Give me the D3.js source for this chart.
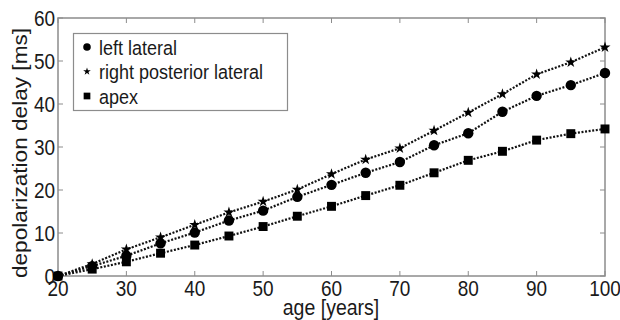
<!DOCTYPE html>
<html>
<head>
<meta charset="utf-8">
<script src="https://cdn.jsdelivr.net/npm/d3@7"></script>
<style>
  body { margin: 0; background: #fff; }
  svg { display: block; font-family: "Liberation Sans", Arial, sans-serif; }
</style>
</head>
<body>
<div id="chart"></div>
<script>
// ages on x axis
const ages = [20, 25, 30, 35, 40, 45, 50, 55, 60, 65, 70, 75, 80, 85, 90, 95, 100];
// depolarization delay [ms] per region
const leftLateral = [0, 2.3, 4.7, 7.6, 10.1, 12.9, 15.2, 18.4, 21.2, 24.0, 26.5, 30.4, 33.2, 38.2, 41.9, 44.4, 47.2];
const rightPosteriorLateral = [0, 2.8, 6.2, 9.0, 11.9, 14.8, 17.3, 20.1, 23.7, 27.1, 29.7, 33.8, 38.0, 42.3, 46.9, 49.7, 53.2];
const apex = [0, 1.6, 3.3, 5.3, 7.2, 9.3, 11.5, 13.9, 16.2, 18.7, 21.1, 24.0, 26.9, 29.0, 31.6, 33.1, 34.2];
const seriesNames = ['left lateral', 'right posterior lateral', 'apex'];
const xTicks = [20, 30, 40, 50, 60, 70, 80, 90, 100];
const yTicks = [0, 10, 20, 30, 40, 50, 60];

const width = 620, height = 320;
const margin = { top: 18, right: 15, bottom: 44, left: 58 };
const axisColor = '#8c8c8c';
const textColor = '#1a1a1a';
// the source picture is a little stretched vertically, so text is too
const stretch = 1.16;

const svg = d3.select('#chart').append('svg')
  .attr('width', width)
  .attr('height', height);

const x = d3.scaleLinear().domain([20, 100]).range([margin.left, width - margin.right]);
const y = d3.scaleLinear().domain([0, 60]).range([height - margin.bottom, margin.top]);

// box + ticks (matlab style, ticks inward on all sides)
const g = svg.append('g');
g.append('rect')
  .attr('x', x(20)).attr('y', y(60))
  .attr('width', x(100) - x(20)).attr('height', y(0) - y(60))
  .attr('fill', 'none').attr('stroke', axisColor).attr('stroke-width', 1.5);

const tickLen = 5;
xTicks.forEach(t => {
  g.append('line').attr('x1', x(t)).attr('x2', x(t)).attr('y1', y(0)).attr('y2', y(0) - tickLen)
    .attr('stroke', axisColor);
  g.append('line').attr('x1', x(t)).attr('x2', x(t)).attr('y1', y(60)).attr('y2', y(60) + tickLen)
    .attr('stroke', axisColor);
});
yTicks.forEach(t => {
  g.append('line').attr('x1', x(20)).attr('x2', x(20) + tickLen).attr('y1', y(t)).attr('y2', y(t))
    .attr('stroke', axisColor);
  g.append('line').attr('x1', x(100)).attr('x2', x(100) - tickLen).attr('y1', y(t)).attr('y2', y(t))
    .attr('stroke', axisColor);
});

// tick labels
g.selectAll('.xlab').data(xTicks).enter().append('text')
  .attr('class', 'xlab')
  .attr('transform', d => `translate(${x(d)},${y(0) + 20}) scale(1,${stretch})`)
  .attr('text-anchor', 'middle')
  .style('font-size', '19px').style('fill', textColor)
  .text(d => d);

g.selectAll('.ylab').data(yTicks).enter().append('text')
  .attr('class', 'ylab')
  .attr('transform', d => `translate(${x(20) - 3},${y(d)}) scale(1,${stretch})`)
  .attr('dy', '0.36em')
  .attr('text-anchor', 'end')
  .style('font-size', '19px').style('fill', textColor)
  .text(d => d);

// axis titles
svg.append('text')
  .attr('transform', `translate(331,314.5) scale(1,${stretch})`)
  .attr('text-anchor', 'middle')
  .style('font-size', '19.5px').style('fill', textColor)
  .text('age [years]');

svg.append('text')
  .attr('transform', `translate(27,${(y(0) + y(60)) / 2 + 6}) rotate(-90) scale(${stretch},1)`)
  .attr('text-anchor', 'middle')
  .style('font-size', '19.5px').style('fill', textColor)
  .text('depolarization delay [ms]');

// series
const series = [
  { name: seriesNames[0], values: leftLateral, shape: d3.symbolCircle, size: 85, legendSize: 45 },
  { name: seriesNames[1], values: rightPosteriorLateral, shape: d3.symbolStar, size: 38, legendSize: 18 },
  { name: seriesNames[2], values: apex, shape: d3.symbolSquare, size: 80, legendSize: 45 }
];

const line = d3.line()
  .x(d => x(d[0]))
  .y(d => y(d[1]));

series.forEach(s => {
  const pts = ages.map((a, i) => [a, s.values[i]]);
  svg.append('path')
    .datum(pts)
    .attr('d', line)
    .attr('fill', 'none')
    .attr('stroke', '#111')
    .attr('stroke-width', 2.2)
    .attr('stroke-dasharray', '2,1.6');
  svg.selectAll(null).data(pts).enter().append('path')
    .attr('transform', d => `translate(${x(d[0])},${y(d[1])})`)
    .attr('d', d3.symbol().type(s.shape).size(s.size))
    .attr('fill', '#000');
});

// legend
const legend = svg.append('g').attr('class', 'legend');
legend.append('rect')
  .attr('x', 73.5).attr('y', 33.5)
  .attr('width', 214).attr('height', 77)
  .attr('fill', '#fff').attr('stroke', axisColor).attr('stroke-width', 1.2);

const items = legend.selectAll('.legend-item')
  .data(series)
  .enter().append('g')
  .attr('class', 'legend-item')
  .attr('transform', (d, i) => `translate(87, ${47 + i * 24.5})`);

items.append('path')
  .attr('d', d => d3.symbol().type(d.shape).size(d.legendSize)())
  .attr('fill', '#000');

items.append('text')
  .attr('transform', `translate(12,0) scale(1,${stretch})`)
  .attr('dy', '0.36em')
  .style('font-size', '18px').style('fill', textColor)
  .text(d => d.name);
</script>
</body>
</html>
